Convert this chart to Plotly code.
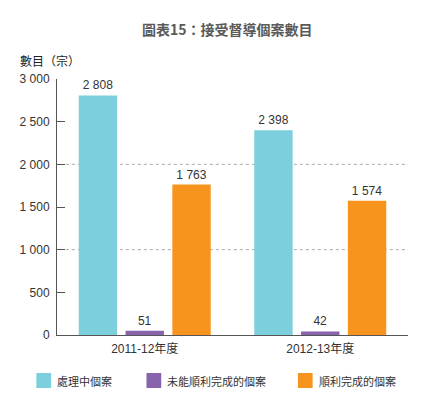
import plotly.graph_objects as go

categories = ["2011-12年度", "2012-13年度"]
series_names = ["處理中個案", "未能順利完成的個案", "順利完成的個案"]
processing = [2808, 2398]
not_completed = [51, 42]
completed = [1763, 1574]
series_values = [processing, not_completed, completed]
colors = ["#7ECFDD", "#8764AC", "#F7941D"]
y_tickvals = [0, 500, 1000, 1500, 2000, 2500, 3000]
y_ticktext = ["0", "500", "1 000", "1 500", "2 000", "2 500", "3 000"]
grid_vals = [1000, 2000]

FONT = "Arial, 'Liberation Sans', 'Noto Sans CJK TC', sans-serif"
CJK = "'Noto Sans CJK TC', 'Liberation Sans', sans-serif"

# page has an 8px body margin; compensate
O = 8
W, H = 448 - O, 414 - O
PL, PR, PT, PB = 51, 408, 79, 335  # plot area in page pixels
L, T = PL - O, PT - O
pw, ph = PR - PL, PB - PT
R, B = W - L - pw, H - T - ph

def px(x):
    return (x - PL) / pw

def py(y):
    return (PB - y) / ph

def fmt(v):
    return f"{v:,}".replace(",", " ")

fig = go.Figure()
for name, vals, col in zip(series_names, series_values, colors):
    fig.add_trace(go.Bar(
        x=categories, y=vals, name=name,
        marker=dict(color=col, line=dict(width=0)),
        text=[fmt(v) for v in vals], textposition="outside",
        textfont=dict(size=12, color="#333333", family=FONT),
        cliponaxis=False, showlegend=False,
    ))

shapes = []
for g in grid_vals:
    shapes.append(dict(type="line", xref="paper", yref="y", x0=px(60), x1=1, y0=g, y1=g,
                       line=dict(color="#AAAAAA", width=1, dash="3px,3px"), layer="below"))

annotations = [
    dict(text="<b>圖表15：接受督導個案數目</b>", xref="paper", yref="paper",
         x=px(224), y=py(29), xanchor="center", yanchor="middle", showarrow=False,
         font=dict(size=14, color="#5A5A5A", family=CJK)),
    dict(text="數目（宗）", xref="paper", yref="paper",
         x=px(11), y=py(60), xanchor="left", yanchor="middle", showarrow=False,
         font=dict(size=12, color="#222222", family=CJK)),
]

legend_x = [30, 142, 296]
for lx, name, col in zip(legend_x, series_names, colors):
    shapes.append(dict(type="rect", xref="paper", yref="paper",
                       x0=px(lx), x1=px(lx + 15), y0=py(373), y1=py(388),
                       fillcolor=col, line=dict(width=0)))
    annotations.append(dict(text=name, xref="paper", yref="paper",
                            x=px(lx + 19), y=py(381), xanchor="left", yanchor="middle",
                            showarrow=False,
                            font=dict(size=11, color="#333333", family=CJK)))

fig.update_layout(
    width=W, height=H,
    margin=dict(l=L, r=R, t=T, b=B, pad=0),
    paper_bgcolor="white", plot_bgcolor="white",
    barmode="group", bargap=0.2, bargroupgap=0.18,
    font=dict(family=FONT, size=12, color="#333333"),
    shapes=shapes, annotations=annotations,
    xaxis=dict(range=[-0.5, 1.5], showline=True, linecolor="#555555", linewidth=1,
               ticks="", showgrid=False, zeroline=False, ticklabelstandoff=3,
               tickfont=dict(size=12, color="#333333", family=FONT)),
    yaxis=dict(range=[0, 3000], tickvals=y_tickvals, ticktext=y_ticktext,
               showline=True, linecolor="#555555", linewidth=1,
               ticks="inside", ticklen=8, tickcolor="#555555",
               showgrid=False, zeroline=False, ticklabelstandoff=4,
               tickfont=dict(size=12, color="#333333", family=FONT)),
)

fig.write_html("out.html")
